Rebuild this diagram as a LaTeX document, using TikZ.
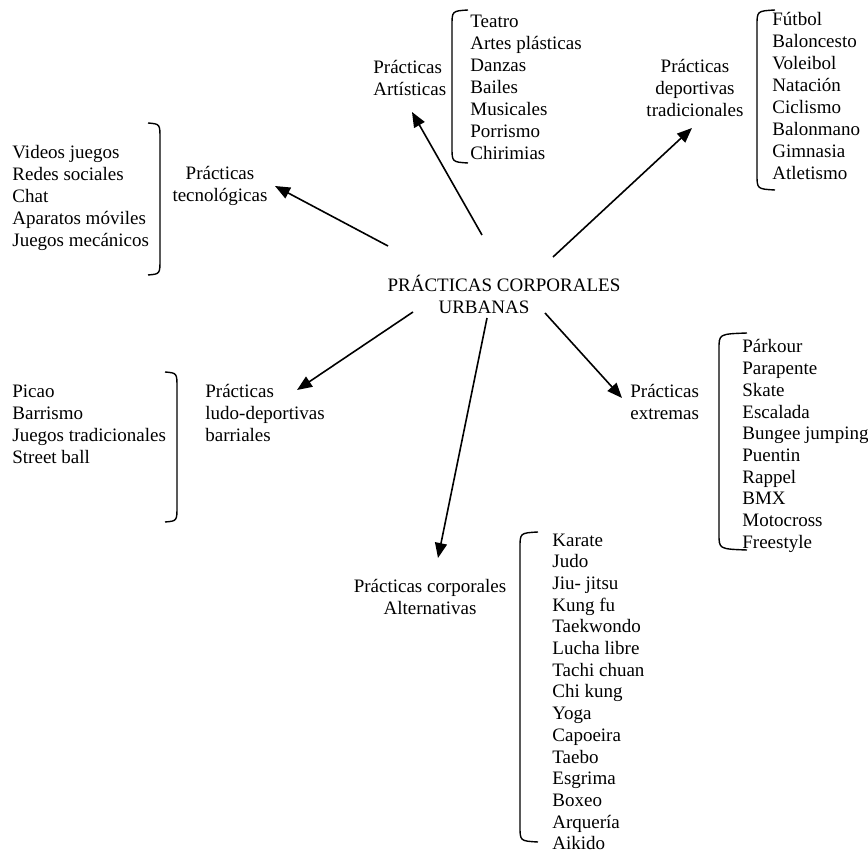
\documentclass[tikz,border=0pt]{standalone}
\usepackage{fontspec}
\setmainfont{Liberation Serif}
\usetikzlibrary{arrows.meta}

\tikzset{
  texto/.style={font=\fontsize{9.5}{11}\selectfont, inner sep=0pt},
  item/.style={texto, anchor=base west},
  flecha/.style={line width=0.8pt, -{Triangle[length=7.5pt,width=6pt]}},
  llave/.style={line width=0.7pt}
}
\newcommand{\llave}[4]{\draw[llave] (#1+#4,#2) .. controls (#1,#2+1) .. (#1,#2+16) -- (#1,#3-16) .. controls (#1,#3-1) .. (#1+#4,#3);}

\begin{document}
\begin{tikzpicture}[x=0.5pt,y=-0.5pt]
\useasboundingbox (0,0) rectangle (868,855);
\node[texto,align=center] (centro) at (504,294) {PRÁCTICAS CORPORALES\\URBANAS\hspace*{20pt}};

\node[texto,align=left,anchor=west] (art) at (373,78) {Prácticas\\Artísticas};
\node[texto,align=center] (dep) at (695,88) {Prácticas\\deportivas\\tradicionales};
\node[texto,align=center] (tec) at (220,186) {Prácticas\\tecnológicas};
\node[texto,align=left,anchor=west] (ludo) at (205,413) {Prácticas\\ludo-deportivas\\barriales};
\node[texto,align=left,anchor=west] (ext) at (630,402) {Prácticas\\extremas};
\node[texto,align=center] (alt) at (430,597) {Prácticas corporales\\Alternativas};

\foreach \t [count=\i] in {Teatro,Artes plásticas,Danzas,Bailes,Musicales,Porrismo,Chirimias}
  \node[item] (art\i) at (470,{28+22*(\i-1)}) {\t};
\foreach \t [count=\i] in {Fútbol,Baloncesto,Voleibol,Natación,Ciclismo,Balonmano,Gimnasia,Atletismo}
  \node[item] (dep\i) at (772,{26+22*(\i-1)}) {\t};
\foreach \t [count=\i] in {Videos juegos,Redes sociales,Chat,Aparatos móviles,Juegos mecánicos}
  \node[item] (tec\i) at (12,{159+21.8*(\i-1)}) {\t};
\foreach \t [count=\i] in {Picao,Barrismo,Juegos tradicionales,Street ball}
  \node[item] (ludo\i) at (12,{398+21.7*(\i-1)}) {\t};
\foreach \t [count=\i] in {Párkour,Parapente,Skate,Escalada,Bungee jumping,Puentin,Rappel,BMX,Motocross,Freestyle}
  \node[item] (ext\i) at (742,{353+21.7*(\i-1)}) {\t};
\foreach \t [count=\i] in {Karate,Judo,Jiu- jitsu,Kung fu,Taekwondo,Lucha libre,Tachi chuan,Chi kung,Yoga,Capoeira,Taebo,Esgrima,Boxeo,Arquería,Aikido}
  \node[item] (alt\i) at (552,{546+21.7*(\i-1)}) {\t};

\llave{452}{10}{163}{16}
\llave{757}{10}{190}{18}
\llave{160}{123}{275}{-12}
\llave{177}{372}{522}{-12}
\llave{719}{333}{550}{28}
\llave{520}{532}{842}{18}

\coordinate (o1) at (482,235); \coordinate (p1) at (412,112);
\coordinate (o2) at (553,257); \coordinate (p2) at (692,128);
\coordinate (o3) at (388,246); \coordinate (p3) at (275,186);
\coordinate (o4) at (413,312); \coordinate (p4) at (297,390);
\coordinate (o5) at (487,318); \coordinate (p5) at (438,558);
\coordinate (o6) at (545,313); \coordinate (p6) at (622,398);
\foreach \k in {1,...,6}
  \draw[flecha] (o\k) -- (p\k);
\end{tikzpicture}
\end{document}
